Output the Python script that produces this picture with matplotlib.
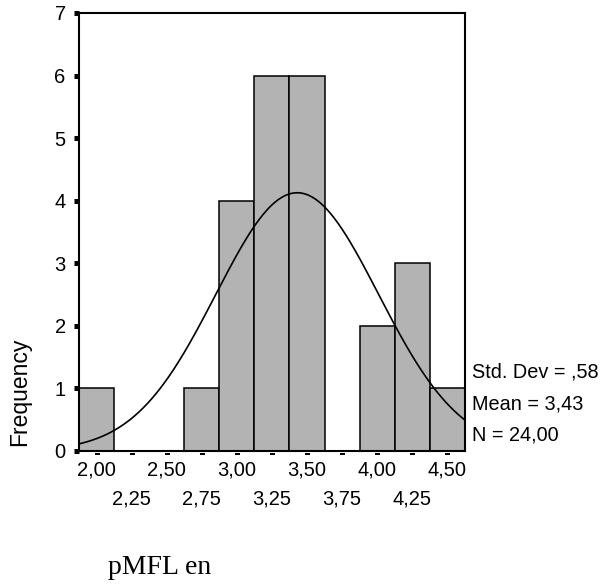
import matplotlib.pyplot as plt
import numpy as np

# histogram bins (centres) and counts
bin_centres = [2.00, 2.25, 2.50, 2.75, 3.00, 3.25, 3.50, 3.75, 4.00, 4.25, 4.50]
counts = [1, 0, 0, 1, 4, 6, 6, 0, 2, 3, 1]
bin_width = 0.25

# summary stats shown on the right
std_dev = 0.58
mean = 3.43
n_total = 24

major_labels = ['2,00', '2,50', '3,00', '3,50', '4,00', '4,50']
minor_labels = ['2,25', '2,75', '3,25', '3,75', '4,25']

fig = plt.figure(figsize=(6.03, 5.87), dpi=100)
ax = fig.add_axes([0.131, 0.2317, 0.640, 0.7462])

ax.bar(bin_centres, counts, width=bin_width, color='#b3b3b3',
       edgecolor='black', linewidth=1.1, zorder=2)

# normal curve
xs = np.linspace(1.8, 4.7, 300)
ys = n_total * bin_width / (std_dev * np.sqrt(2 * np.pi)) * np.exp(-0.5 * ((xs - mean) / std_dev) ** 2)
ax.plot(xs, ys, color='black', lw=1.2, zorder=3)

ax.set_xlim(1.875, 4.625)
ax.set_ylim(0, 7)

for s in ax.spines.values():
    s.set_linewidth(1.5)
    s.set_zorder(4)

# y ticks as small squares
ax.set_yticks(range(8))
ax.tick_params(axis='y', direction='out', length=3.6, width=3.6, pad=6,
               labelsize=14.5)

# x tick labels in two rows
ax.set_xticks(bin_centres[0::2])
ax.set_xticklabels(major_labels)
ax.set_xticks(bin_centres[1::2], minor=True)
ax.set_xticklabels(minor_labels, minor=True)
ax.tick_params(axis='x', which='major', length=0, pad=7, labelsize=14.5)
ax.tick_params(axis='x', which='minor', length=0, pad=28, labelsize=14.5)

# little dash marks below the axis
ax.plot(bin_centres, [-0.05] * len(bin_centres), marker='_', ls='none',
        color='black', ms=3.6, mew=1.4, clip_on=False)

for lab in ax.get_xticklabels() + ax.get_yticklabels() + ax.get_xticklabels(minor=True):
    lab.set_family('Liberation Sans')

fig.text(20 / 603, 1 - 392 / 587, 'Frequency', rotation=90, ha='center',
         va='center', fontsize=16.5, family='Liberation Sans')

stats = ['Std. Dev = ,58', 'Mean = 3,43', 'N = 24,00']
for i, t in enumerate(stats):
    fig.text(472 / 603, 1 - (372 + 31.5 * i) / 587, t, ha='left', va='center',
             fontsize=14.3, family='Liberation Sans')

fig.text(108 / 603, 1 - 568 / 587, 'pMFL en', ha='left', va='center',
         fontsize=20, family='Liberation Serif')

fig.savefig('out.png', dpi=100)
